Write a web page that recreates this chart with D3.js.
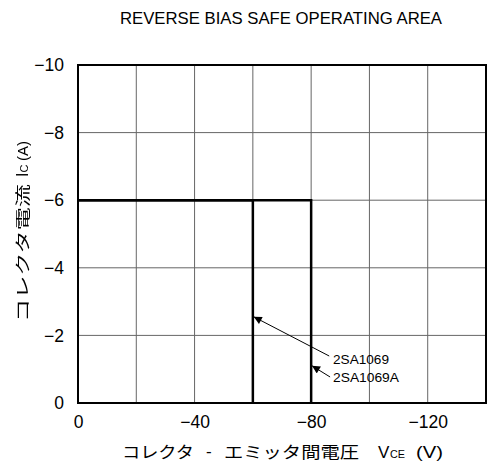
<!DOCTYPE html>
<html><head><meta charset="utf-8">
<script src="https://cdn.jsdelivr.net/npm/d3@7"></script>
<style>body{margin:0;background:#fff}svg{display:block}.gs{opacity:0.999;will-change:transform}</style>
</head><body>
<svg id="c" width="487" height="465"></svg>
<script>
const title = "REVERSE BIAS SAFE OPERATING AREA";
const xTicks = [0, -40, -80, -120];
const yTicks = [0, -2, -4, -6, -8, -10];
const xGrid = [-20, -40, -60, -80, -100, -120];
const yGrid = [-2, -4, -6, -8];
const series2SA1069 = [[0, -6], [-60, -6], [-60, 0]];
const series2SA1069A = [[0, -6], [-80, -6], [-80, 0]];
const labels = ["2SA1069", "2SA1069A"];
const labelPos = [[-87.5, -1.27], [-87.5, -0.74]];
const arrowTip = [[-60.3, -2.55], [-80.3, -1.1]];
const arrowTail = [[-86.2, -1.39], [-86.5, -0.77]];

const FONT = "Liberation Sans, Arial, sans-serif";
const CJK = "Noto Sans CJK JP";
const svg = d3.select("#c");
const x = d3.scaleLinear().domain([0, -140]).range([78, 486]);
const y = d3.scaleLinear().domain([0, -10]).range([403, 65]);
const fmt = d => d === 0 ? "0" : "\u2212" + Math.abs(d);

svg.append("defs").append("marker").attr("id", "ah").attr("viewBox", "0 0 10 10")
  .attr("refX", 10).attr("refY", 5).attr("markerWidth", 10).attr("markerHeight", 8)
  .attr("markerUnits", "userSpaceOnUse").attr("orient", "auto")
  .append("path").attr("d", "M0,0L10,5L0,10z").attr("fill", "#000");

// grid
svg.append("g").selectAll("line").data(xGrid).join("line")
  .attr("x1", d => x(d)).attr("x2", d => x(d)).attr("y1", y(0)).attr("y2", y(-10))
  .attr("stroke", "#666").attr("stroke-width", 1);
svg.append("g").selectAll("line").data(yGrid).join("line")
  .attr("x1", x(0)).attr("x2", x(-140)).attr("y1", d => y(d)).attr("y2", d => y(d))
  .attr("stroke", "#666").attr("stroke-width", 1);

// frame
svg.append("rect").attr("x", x(0)).attr("y", y(-10)).attr("width", x(-140) - x(0)).attr("height", y(0) - y(-10))
  .attr("fill", "none").attr("stroke", "#000").attr("stroke-width", 2);

// curves
const line = d3.line().x(d => x(d[0])).y(d => y(d[1]));
[series2SA1069A, series2SA1069].forEach(s => {
  svg.append("path").attr("d", line(s)).attr("fill", "none").attr("stroke", "#000").attr("stroke-width", 2.5);
});

// axes
const ax = svg.append("g").attr("transform", `translate(0,${y(0)})`)
  .call(d3.axisBottom(x).tickValues(xTicks).tickFormat(fmt).tickSize(0).tickPadding(13));
const ay = svg.append("g").attr("transform", `translate(${x(0)},0)`)
  .call(d3.axisLeft(y).tickValues(yTicks).tickFormat(fmt).tickSize(0).tickPadding(14));
[ax, ay].forEach(g => {
  g.select(".domain").remove();
  g.selectAll("text").attr("font-size", 17.5).attr("font-family", FONT).attr("fill", "#000");
});

// annotations
labels.forEach((l, i) => {
  svg.append("line").attr("x1", x(arrowTail[i][0])).attr("y1", y(arrowTail[i][1]))
    .attr("x2", x(arrowTip[i][0])).attr("y2", y(arrowTip[i][1]))
    .attr("stroke", "#000").attr("stroke-width", 1).attr("marker-end", "url(#ah)");
  svg.append("text").attr("x", x(labelPos[i][0])).attr("y", y(labelPos[i][1]))
    .attr("dy", "0.35em").attr("font-size", 12).attr("font-family", FONT).attr("fill", "#000")
    .attr("textLength", i === 0 ? 56 : 66).attr("lengthAdjust", "spacingAndGlyphs").text(l);
});

function t(parent, txt, xx, yy, size, fam, len) {
  const e = parent.append("text").attr("x", xx).attr("y", yy).attr("font-size", size)
    .attr("font-family", fam).attr("fill", "#000").text(txt);
  if (len) e.attr("textLength", len).attr("lengthAdjust", "spacingAndGlyphs");
  return e;
}

// title
t(svg, title, 120, 24, 17, FONT, 322);

// x axis title
t(svg, "コレクタ", 122, 458, 16, CJK, 72);
t(svg, "-", 206, 457, 17, FONT);
t(svg, "エミッタ間電圧", 224, 458, 16, CJK, 135);
t(svg, "V", 378, 458, 17, FONT);
t(svg, "CE", 390, 458, 11, FONT, 15);
t(svg, "(V)", 416, 458, 17, FONT, 27);

// y axis title
const yg = svg.append("g").attr("class", "gs").attr("transform", "translate(28,0) rotate(-90)");
t(yg, "コレクタ電流", -322, 0, 14.5, CJK, 138);
t(yg, "I", -177, 0, 16, FONT);
t(yg, "C", -172.5, 0, 11, FONT);
t(yg, "(A)", -161, 0, 15, FONT);
</script>
</body></html>
